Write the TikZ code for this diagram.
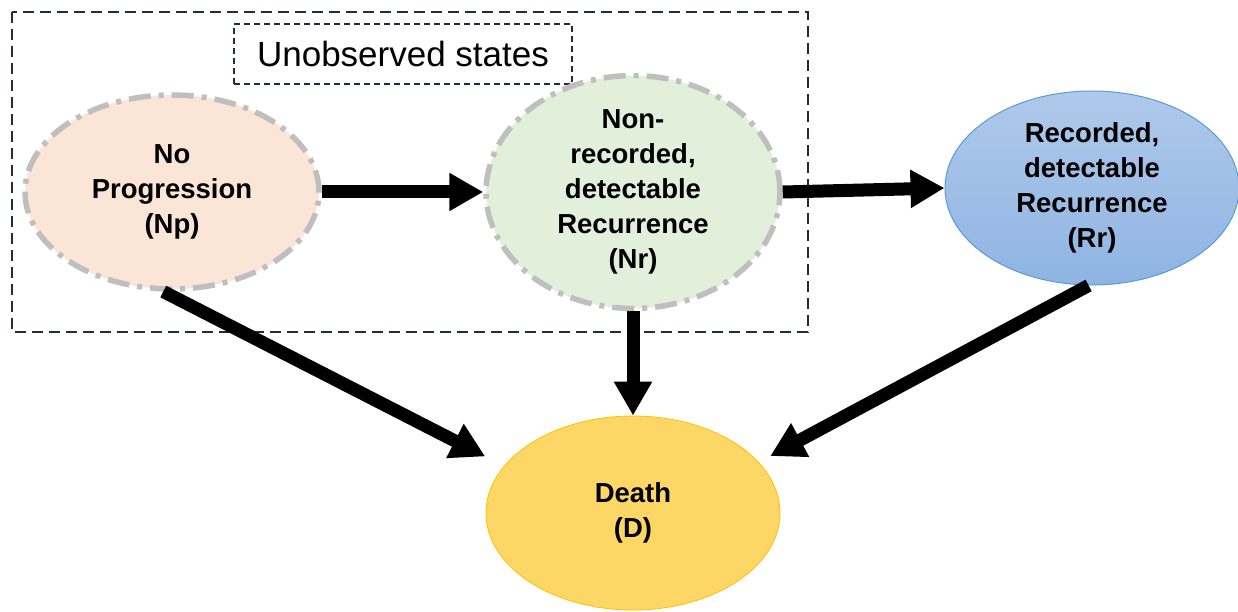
\documentclass[tikz,border=0pt]{standalone}
\usepackage{fontspec}
\setmainfont{Liberation Sans}
\usepackage{tikz}
\usetikzlibrary{shapes.geometric,arrows.meta}

\definecolor{npfill}{HTML}{FBE5D6}
\definecolor{nrfill}{HTML}{E2EFDA}
\definecolor{rrtop}{HTML}{AFC9EA}
\definecolor{rrbottom}{HTML}{8FB4E3}
\definecolor{rrline}{HTML}{5B9BD5}
\definecolor{dfill}{HTML}{FDD766}
\definecolor{dline}{HTML}{FFC000}
\definecolor{dashgray}{HTML}{BFBFBF}
\definecolor{boxline}{HTML}{1F2D42}

\begin{document}
\begin{tikzpicture}[x=1pt,y=-1pt,
state/.style = {ellipse, minimum width=294pt, minimum height=194pt, inner sep=0pt, align=center, font=\fontsize{27.5}{35}\selectfont\bfseries},
hidden/.style = {state, draw=dashgray, line width=5.5pt, dash pattern=on 22pt off 8pt on 5pt off 8pt},
arr/.style = {line width=13pt, -{Triangle[length=34pt,width=36pt]}}]
\useasboundingbox (0,0) rectangle (1238,612);
\draw[boxline, line width=1.5pt, dash pattern=on 11pt off 6pt] (12,12) rectangle (808,332);
\node[draw=boxline, line width=1.3pt, dash pattern=on 6pt off 4pt, minimum width=338pt, minimum height=60pt, font=\fontsize{35}{42}\selectfont] (U) at (403,54) {Unobserved states};
\node[hidden] (Np) [fill=npfill] at (172,192) {No\\Progression\\(Np)};
\node[hidden] (Nr) [fill=nrfill] at (633,192) {Non-\\recorded,\\detectable\\Recurrence\\(Nr)};
\node[state] (Rr) [top color=rrtop, bottom color=rrbottom, draw=rrline, line width=1pt] at (1092,188) {Recorded,\\detectable\\Recurrence\\(Rr)};
\node[state] (D) [fill=dfill, draw=dline, line width=0.8pt] at (633,513) {Death\\(D)};
\draw[arr] (Np.east) -- (Nr.west);
\draw[arr] (Nr.east) -- (Rr.west);
\draw[arr] (Nr.south) -- (D.north);
\draw[arr, shorten >=21pt] (Np.265) -- (D.160);
\draw[arr, shorten >=13pt] (Rr.268) -- (D.22);
\end{tikzpicture}
\end{document}
